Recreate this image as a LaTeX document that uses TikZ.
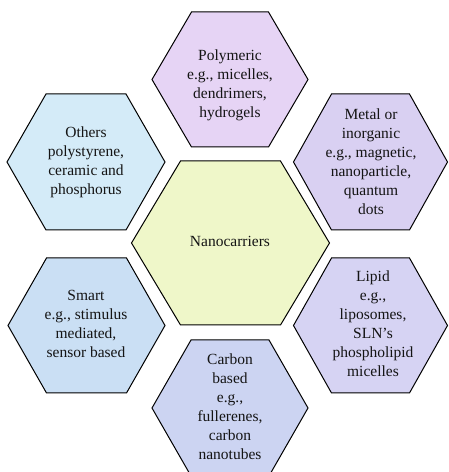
\documentclass[tikz,border=0pt]{standalone}
\usepackage{fontspec}
\setmainfont{Liberation Serif}
\definecolor{cPoly}{HTML}{E6D4F5}
\definecolor{cOther}{HTML}{D4EBF8}
\definecolor{cMetal}{HTML}{D9D0F2}
\definecolor{cSmart}{HTML}{CADFF4}
\definecolor{cLipid}{HTML}{D6D3F3}
\definecolor{cCarbon}{HTML}{CCD4F2}
\definecolor{cCenter}{HTML}{EFF7C9}
\tikzset{
  hexline/.style={draw=black, line width=1pt, line join=miter},
  hextext/.style={align=center, font=\fontsize{15.5}{19}\selectfont, inner sep=0pt, text=black!92}
}
% \hexa{fill}{cx}{cy}{halfwidth}{halftop}{halfheight}  (y measured downward, in pt)
\newcommand{\hexa}[6]{%
  \fill[#1] ({#2-#4},{472-#3}) -- ({#2-#5},{472-#3+#6}) -- ({#2+#5},{472-#3+#6}) -- ({#2+#4},{472-#3}) -- ({#2+#5},{472-#3-#6}) -- ({#2-#5},{472-#3-#6}) -- cycle;
  \draw[hexline] ({#2-#4},{472-#3}) -- ({#2-#5},{472-#3+#6}) -- ({#2+#5},{472-#3+#6}) -- ({#2+#4},{472-#3}) -- ({#2+#5},{472-#3-#6}) -- ({#2-#5},{472-#3-#6}) -- cycle;}
\begin{document}
\begin{tikzpicture}[x=1pt,y=1pt]
\useasboundingbox (0,0) rectangle (448,472);
\clip (0,0) rectangle (448,472);
\hexa{cPoly}{230}{79.5}{78}{38.5}{67.5}
\hexa{cOther}{86}{162}{79}{40}{68}
\hexa{cMetal}{370.5}{162}{77}{39}{68}
\hexa{cCenter}{230.5}{243}{99}{50}{82}
\hexa{cSmart}{86.5}{325.5}{78.5}{40}{67.5}
\hexa{cLipid}{370.5}{325.5}{77}{39}{67.5}
\hexa{cCarbon}{230}{408}{78}{39}{68}
\node[hextext] (poly) at (230,{472-85}) {Polymeric\\e.g., micelles,\\dendrimers,\\hydrogels};
\node[hextext] (other) at (86,{472-162}) {Others\\polystyrene,\\ceramic and\\phosphorus};
\node[hextext] (metal) at (371,{472-162}) {Metal or\\inorganic\\e.g., magnetic,\\nanoparticle,\\quantum\\dots};
\node[hextext] (center) at (230,{472-241}) {Nanocarriers};
\node[hextext] (smart) at (86,{472-324}) {Smart\\e.g., stimulus\\mediated,\\sensor based};
\node[hextext] (lipid) at (373,{472-324}) {Lipid\\e.g.,\\liposomes,\\SLN’s\\phospholipid\\micelles};
\node[hextext] (carbon) at (230,{472-407}) {Carbon\\based\\e.g.,\\fullerenes,\\carbon\\nanotubes};
\end{tikzpicture}
\end{document}
